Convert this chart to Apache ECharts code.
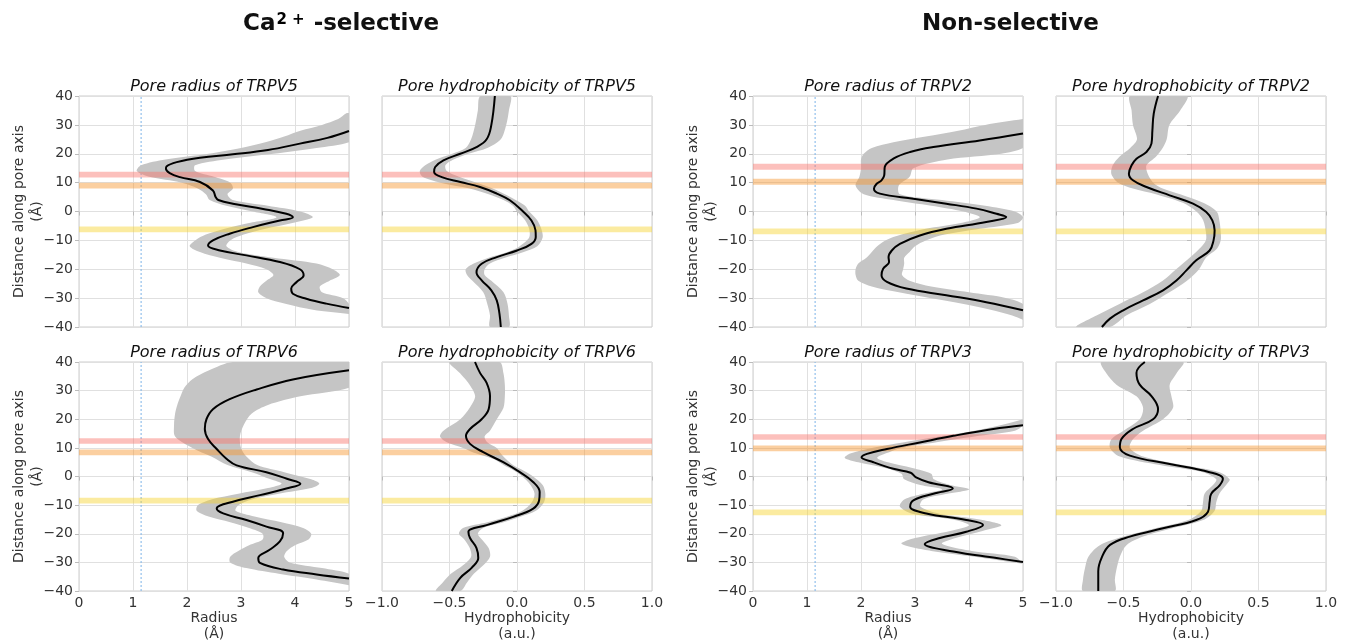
<!DOCTYPE html>
<html><head><meta charset="utf-8">
<script src="https://cdn.jsdelivr.net/npm/echarts@6/dist/echarts.min.js"></script>
<style>html,body{margin:0;padding:0;background:#fff;}#c{width:1348px;height:643px;}</style>
</head><body><div id="c"></div>
<script>
// ---------- tick labels ----------
const distanceTicks = [-40, -30, -20, -10, 0, 10, 20, 30, 40];
const radiusTicks = [0, 1, 2, 3, 4, 5];
const hydroTicks = [-1.0, -0.5, 0.0, 0.5, 1.0];
const probeRadius = 1.15;

// ---------- gate positions (red, orange, yellow) ----------
const trpv5Gates = [12.8, 9.0, -6.2];
const trpv6Gates = [12.4, 8.4, -8.4];
const trpv2Gates = [15.5, 10.3, -6.9];
const trpv3Gates = [13.8, 9.8, -12.5];

// ---------- TRPV5 ----------
const v5RadR = [5.0, 4.6, 4.09, 3.5, 2.85, 2.24, 1.81, 1.62, 1.61, 1.68, 1.87, 2.24, 2.48, 2.53, 2.58, 2.85, 3.41, 3.84, 3.96, 3.72, 3.22, 2.79, 2.48, 2.39, 2.61, 3.1, 3.72, 4.09, 4.16, 4.03, 3.93, 3.96, 4.21, 4.58, 5.0];
const v5RadZ = [27.9, 25.5, 23.5, 21.3, 19.8, 18.6, 17.1, 15.6, 14.8, 13.3, 11.9, 10.2, 7.3, 5.0, 4.0, 2.7, 0.9, -0.8, -2.0, -3.1, -5.4, -7.7, -10, -11.8, -13.5, -15.2, -17.5, -20, -22.1, -24.4, -26.7, -28.5, -30.2, -31.9, -33.4];
const v5RadBandZ = [34, 32, 30, 28, 26, 24, 22, 20, 18, 16, 14, 12, 10, 8, 6, 4, 2, 0, -2, -4, -6, -8, -10, -12, -14, -16, -18, -20, -22, -24, -26, -28, -30, -32, -34, -35.5];
const v5RadBandLo = [4.95, 4.8, 4.5, 4.1, 3.8, 3.45, 3.0, 2.4, 1.6, 1.15, 1.07, 1.3, 1.9, 2.2, 2.35, 2.42, 2.73, 3.22, 3.66, 3.15, 2.7, 2.35, 2.15, 2.05, 2.24, 2.61, 3.1, 3.47, 3.6, 3.47, 3.35, 3.32, 3.47, 3.84, 4.33, 5];
const v5RadBandHi = [5, 5, 5, 5, 5, 5, 4.4, 3.6, 2.7, 2.15, 2.15, 2.5, 2.8, 2.85, 2.75, 2.85, 3.5, 4.1, 4.33, 3.95, 3.45, 3.05, 2.8, 2.73, 2.95, 3.6, 4.4, 4.7, 4.83, 4.64, 4.46, 4.5, 4.89, 5, 5, 5];

const v5HydH = [-0.164, -0.19, -0.225, -0.30, -0.42, -0.545, -0.606, -0.614, -0.557, -0.42, -0.274, -0.15, -0.053, 0.045, 0.107, 0.137, 0.139, 0.107, 0.0, -0.15, -0.262, -0.30, -0.26, -0.19, -0.15, -0.13, -0.12];
const v5HydZ = [40, 30, 25, 22.3, 20, 17.7, 15.4, 13.7, 11.9, 10.2, 8.5, 6.2, 3.9, 0, -3.1, -6.5, -8.8, -11.2, -13.5, -15.8, -18.1, -21, -23.9, -27.3, -30.8, -35.4, -40];
const v5HydBandZ = [40, 35, 30, 25, 22, 20, 18, 16, 14, 12, 10, 8, 6, 4, 2, 0, -3, -6, -9, -12, -14, -16, -18, -20, -22, -24, -28, -32, -36, -40];
const v5HydBandLo = [-0.27, -0.29, -0.31, -0.34, -0.38, -0.48, -0.60, -0.68, -0.72, -0.70, -0.57, -0.35, -0.21, -0.10, -0.03, 0.00, 0.06, 0.09, 0.09, 0.02, -0.07, -0.21, -0.32, -0.38, -0.37, -0.33, -0.25, -0.22, -0.20, -0.20];
const v5HydBandHi = [-0.05, -0.06, -0.08, -0.12, -0.22, -0.36, -0.47, -0.53, -0.52, -0.43, -0.30, -0.18, -0.09, -0.01, 0.06, 0.09, 0.15, 0.18, 0.19, 0.15, 0.05, -0.09, -0.20, -0.24, -0.24, -0.19, -0.10, -0.07, -0.06, -0.06];

// ---------- TRPV6 ----------
const v6RadR = [5.0, 3.96, 3.29, 2.79, 2.48, 2.36, 2.33, 2.39, 2.55, 2.73, 2.92, 3.47, 3.85, 4.1, 3.84, 3.35, 2.85, 2.55, 2.67, 3.1, 3.47, 3.78, 3.72, 3.53, 3.32, 3.35, 3.78, 4.40, 5.0];
const v6RadZ = [37.1, 33.9, 30.4, 27, 23.5, 20, 16.6, 13.1, 9.6, 6.2, 3.9, 1.5, -0.8, -2.5, -4.2, -6.5, -8.8, -11.2, -12.9, -15.2, -17.5, -19.8, -22.7, -25.6, -28.5, -30.2, -32.5, -34.2, -35.6];
const v6RadBandZ = [40, 37, 34, 31, 28, 25, 22, 18, 14, 10, 7, 4, 1.5, -1, -2.5, -4, -6, -8, -10, -12, -14, -16, -18, -20, -22, -24, -26, -28, -30, -32, -34, -36, -38];
const v6RadBandLo = [2.85, 2.4, 2.1, 1.95, 1.88, 1.82, 1.78, 1.76, 1.78, 2.1, 2.45, 2.75, 3.2, 3.55, 3.75, 3.5, 2.95, 2.45, 2.2, 2.18, 2.4, 2.8, 3.15, 3.4, 3.4, 3.15, 2.95, 2.8, 2.8, 3.1, 3.7, 4.4, 5];
const v6RadBandHi = [5, 5, 5, 5, 4.1, 3.5, 3.2, 3.05, 2.98, 3.0, 3.1, 3.3, 3.8, 4.3, 4.45, 4.3, 3.7, 3.2, 2.95, 2.9, 3.25, 3.75, 4.15, 4.3, 4.25, 4.0, 3.85, 3.8, 3.9, 4.5, 5, 5, 5];

const v6HydH = [-0.311, -0.274, -0.225, -0.20, -0.21, -0.262, -0.348, -0.378, -0.348, -0.25, -0.102, 0.021, 0.119, 0.168, 0.164, 0.12, -0.028, -0.225, -0.36, -0.348, -0.30, -0.287, -0.336, -0.42, -0.483];
const v6HydZ = [40, 36.2, 32.7, 28.1, 23.5, 20, 16.6, 14.2, 11.4, 8.5, 5, 1.5, -1.9, -5.4, -8.3, -11.2, -14.1, -17, -19.3, -21.5, -25, -28.5, -31.9, -35.4, -40];
const v6HydBandZ = [40, 36, 32, 28, 24, 20, 16, 14, 12, 10, 8, 6, 4, 2, 0, -3, -6, -9, -12, -14, -16, -18, -20, -22, -25, -28, -31, -34, -37, -40];
const v6HydBandLo = [-0.50, -0.42, -0.35, -0.31, -0.35, -0.42, -0.545, -0.57, -0.52, -0.40, -0.30, -0.17, -0.10, -0.02, 0.04, 0.10, 0.13, 0.11, 0.04, -0.07, -0.22, -0.40, -0.43, -0.39, -0.35, -0.34, -0.40, -0.49, -0.55, -0.60];
const v6HydBandHi = [-0.13, -0.10, -0.09, -0.09, -0.10, -0.15, -0.20, -0.24, -0.22, -0.15, -0.12, -0.08, -0.03, 0.05, 0.12, 0.19, 0.21, 0.20, 0.14, 0.03, -0.10, -0.25, -0.29, -0.26, -0.21, -0.20, -0.25, -0.32, -0.37, -0.42];

// ---------- TRPV2 ----------
const v2RadR = [5.0, 4.2, 3.34, 2.91, 2.6, 2.44, 2.43, 2.38, 2.29, 2.24, 2.35, 2.97, 3.58, 4.14, 4.51, 4.69, 4.32, 3.58, 3.09, 2.72, 2.57, 2.51, 2.52, 2.41, 2.38, 2.48, 2.84, 3.58, 4.32, 5.0];
const v2RadZ = [27, 24.6, 22.3, 20.6, 18.3, 15.4, 12.5, 10.8, 9.6, 7.9, 6.2, 4.4, 2.7, 1, -0.8, -1.9, -3.6, -6, -8.3, -11.2, -13.5, -15.8, -17.5, -19.8, -22.1, -24.4, -26.7, -29, -31.4, -34.2];
const v2RadBandZ = [32, 30, 28, 26, 24, 22, 20, 18, 15, 12, 9, 6, 4, 2, 0, -2, -4, -6, -8, -10, -12, -14, -16, -18, -20, -22, -24, -26, -28, -30, -32, -34, -36, -37.5];
const v2RadBandLo = [5, 4.3, 3.8, 3.2, 2.6, 2.2, 2.05, 2.0, 2.0, 1.97, 1.9, 2.05, 2.6, 3.3, 3.9, 4.2, 3.85, 3.2, 2.75, 2.45, 2.3, 2.2, 2.1, 1.95, 1.9, 1.9, 1.95, 2.2, 2.7, 3.3, 3.9, 4.4, 4.8, 5];
const v2RadBandHi = [5, 5, 5, 5, 5, 5, 4.6, 3.6, 2.97, 2.9, 2.7, 2.72, 3.5, 4.3, 4.85, 5, 4.9, 4.2, 3.55, 3.2, 3.0, 2.9, 2.8, 2.8, 2.78, 2.76, 2.9, 3.3, 4.0, 4.7, 5, 5, 5, 5];

const v2HydH = [-0.244, -0.276, -0.286, -0.293, -0.33, -0.404, -0.44, -0.46, -0.43, -0.33, -0.158, 0.015, 0.113, 0.158, 0.175, 0.167, 0.138, 0.039, -0.034, -0.108, -0.207, -0.355, -0.502, -0.6, -0.66];
const v2HydZ = [40, 33.9, 28.1, 23.5, 20.6, 18.3, 16, 13.1, 10.8, 8.5, 5.6, 2.7, -0.2, -3.1, -6.5, -10, -13.5, -16.9, -20.4, -23.9, -27.3, -30.8, -34.2, -37.1, -40];
const v2HydBandZ = [40, 35, 30, 25, 22, 19, 16, 13, 10, 8, 6, 3, 0, -3, -7, -10, -13, -16, -20, -24, -28, -32, -36, -40];
const v2HydBandLo = [-0.45, -0.44, -0.43, -0.40, -0.45, -0.53, -0.58, -0.59, -0.54, -0.43, -0.26, -0.06, 0.04, 0.09, 0.11, 0.11, 0.06, -0.01, -0.11, -0.21, -0.355, -0.53, -0.70, -0.85];
const v2HydBandHi = [-0.03, -0.08, -0.16, -0.18, -0.21, -0.26, -0.33, -0.32, -0.28, -0.21, -0.08, 0.09, 0.19, 0.21, 0.22, 0.22, 0.19, 0.11, 0.06, -0.03, -0.16, -0.305, -0.48, -0.60];

// ---------- TRPV3 ----------
const v3RadR = [5.0, 4.45, 3.71, 3.09, 2.48, 2.11, 2.01, 2.23, 2.6, 2.92, 3.02, 3.25, 3.7, 3.34, 2.97, 2.91, 3.21, 3.95, 4.26, 3.95, 3.46, 3.18, 3.71, 4.51, 5.0];
const v3RadZ = [17.9, 16.6, 14.2, 11.9, 9.6, 7.9, 6.7, 5, 2.7, 1.3, -0.3, -2.0, -4.2, -6, -8.3, -10.6, -12.9, -15.2, -16.9, -19.3, -21.5, -23.6, -26.2, -28.5, -29.9];
const v3RadBandZ = [20, 18, 16, 14, 12, 10, 8, 6.5, 5, 3, 1, -1, -3, -4.5, -6, -8, -10.5, -13, -15, -17, -19, -21.5, -23.5, -26, -28, -30.5];
const v3RadBandLo = [5, 4.6, 4.1, 3.45, 2.8, 2.2, 1.8, 1.7, 1.95, 2.45, 2.75, 2.8, 3.1, 3.5, 3.15, 2.8, 2.72, 2.95, 3.7, 4.0, 3.65, 3.0, 2.75, 3.3, 4.1, 5];
const v3RadBandHi = [5, 5, 4.85, 4.1, 3.4, 2.75, 2.45, 2.3, 2.5, 2.95, 3.3, 3.35, 3.65, 4.0, 3.6, 3.15, 3.1, 3.45, 4.2, 4.6, 4.25, 3.75, 3.5, 4.05, 4.85, 5];

const v3HydH = [-0.342, -0.404, -0.38, -0.293, -0.244, -0.281, -0.43, -0.515, -0.527, -0.453, -0.158, 0.138, 0.236, 0.212, 0.15, 0.138, 0.126, 0.039, -0.207, -0.453, -0.60, -0.663, -0.687, -0.687];
const v3HydZ = [40, 36.2, 32.1, 28.1, 23.5, 20, 16.6, 13.1, 10.2, 7.3, 4.4, 1.5, -0.8, -3.1, -6, -8.8, -12.3, -15.2, -18.1, -21, -23.9, -28.5, -33.1, -40];
const v3HydBandZ = [40, 36, 32, 28, 24, 20, 16, 13, 10, 7, 4, 1.5, -1, -3, -6, -9, -12, -15, -18, -21, -24, -28, -32, -36, -40];
const v3HydBandLo = [-0.663, -0.626, -0.55, -0.404, -0.355, -0.38, -0.50, -0.59, -0.60, -0.527, -0.23, 0.089, 0.187, 0.163, 0.10, 0.089, 0.076, -0.01, -0.256, -0.50, -0.675, -0.76, -0.785, -0.80, -0.80];
const v3HydBandHi = [-0.059, -0.108, -0.158, -0.145, -0.133, -0.207, -0.355, -0.43, -0.453, -0.355, -0.06, 0.21, 0.286, 0.26, 0.21, 0.187, 0.175, 0.10, -0.133, -0.355, -0.478, -0.527, -0.55, -0.564, -0.564];

// ---------- layout / style ----------
const FONT = 'DejaVu Sans';
const TXT = '#333333';
const PW = 270, PH = 231;
const gateColors = ['rgba(248,115,106,0.45)', 'rgba(246,148,44,0.45)', 'rgba(246,211,44,0.45)'];
const gateHalf = 1.0;

const panels = [
  {kind:'rad', left:79,   top:96,  title:'Pore radius of TRPV5',          x:v5RadR, z:v5RadZ, bz:v5RadBandZ, blo:v5RadBandLo, bhi:v5RadBandHi, gates:trpv5Gates, bottom:false},
  {kind:'hyd', left:382,  top:96,  title:'Pore hydrophobicity of TRPV5',  x:v5HydH, z:v5HydZ, bz:v5HydBandZ, blo:v5HydBandLo, bhi:v5HydBandHi, gates:trpv5Gates, bottom:false},
  {kind:'rad', left:79,   top:362, title:'Pore radius of TRPV6',          x:v6RadR, z:v6RadZ, bz:v6RadBandZ, blo:v6RadBandLo, bhi:v6RadBandHi, gates:trpv6Gates, bottom:true},
  {kind:'hyd', left:382,  top:362, title:'Pore hydrophobicity of TRPV6',  x:v6HydH, z:v6HydZ, bz:v6HydBandZ, blo:v6HydBandLo, bhi:v6HydBandHi, gates:trpv6Gates, bottom:true},
  {kind:'rad', left:753,  top:96,  title:'Pore radius of TRPV2',          x:v2RadR, z:v2RadZ, bz:v2RadBandZ, blo:v2RadBandLo, bhi:v2RadBandHi, gates:trpv2Gates, bottom:false},
  {kind:'hyd', left:1056, top:96,  title:'Pore hydrophobicity of TRPV2',  x:v2HydH, z:v2HydZ, bz:v2HydBandZ, blo:v2HydBandLo, bhi:v2HydBandHi, gates:trpv2Gates, bottom:false},
  {kind:'rad', left:753,  top:362, title:'Pore radius of TRPV3',          x:v3RadR, z:v3RadZ, bz:v3RadBandZ, blo:v3RadBandLo, bhi:v3RadBandHi, gates:trpv3Gates, bottom:true},
  {kind:'hyd', left:1056, top:362, title:'Pore hydrophobicity of TRPV3',  x:v3HydH, z:v3HydZ, bz:v3HydBandZ, blo:v3HydBandLo, bhi:v3HydBandHi, gates:trpv3Gates, bottom:true}
];

function minus(s){ return String(s).replace('-', '\u2212'); }

const grid = [], xAxis = [], yAxis = [], series = [], graphic = [];

panels.forEach((p, i) => {
  const isRad = p.kind === 'rad';
  const ticks = isRad ? radiusTicks : hydroTicks;
  grid.push({left:p.left, top:p.top, width:PW, height:PH, show:true, borderColor:'#cccccc', borderWidth:1, containLabel:false});
  xAxis.push({
    gridIndex:i, type:'value', min:ticks[0], max:ticks[ticks.length-1], interval:ticks[1]-ticks[0],
    axisLine:{show:false},
    axisTick:{show:true, length:4, lineStyle:{color:'#bbbbbb'}},
    splitLine:{show:true, lineStyle:{color:'#e0e0e0', width:1}},
    axisLabel:{show:p.bottom, fontFamily:FONT, fontSize:14, color:TXT, margin:5,
      formatter: v => isRad ? String(v) : minus(v.toFixed(1))},
    name: p.bottom ? (isRad ? 'Radius\n(Å)' : 'Hydrophobicity\n(a.u.)') : '',
    nameLocation:'middle', nameGap:19, nameMoveOverlap:false,
    nameTextStyle:{fontFamily:FONT, fontSize:14, color:TXT, lineHeight:16, verticalAlign:'top'}
  });
  yAxis.push({
    gridIndex:i, type:'value', min:distanceTicks[0], max:distanceTicks[distanceTicks.length-1], interval:distanceTicks[1]-distanceTicks[0],
    axisLine:{show:false},
    axisTick:{show:true, length:4, lineStyle:{color:'#bbbbbb'}},
    splitLine:{show:true, lineStyle:{color:'#e0e0e0', width:1}},
    axisLabel:{show:isRad, fontFamily:FONT, fontSize:14, color:TXT, margin:6, formatter: v => minus(v)},
    name: isRad ? 'Distance along pore axis\n(Å)' : '',
    nameLocation:'middle', nameGap:33, nameRotate:90, nameMoveOverlap:false,
    nameTextStyle:{fontFamily:FONT, fontSize:14, color:TXT, lineHeight:18}
  });
  // uncertainty band
  series.push({
    type:'custom', xAxisIndex:i, yAxisIndex:i, z:2, clip:true, silent:true,
    data:[[ticks[0], 0]],
    renderItem: function(params, api){
      const pts = [];
      for (let k = 0; k < p.bz.length; k++) pts.push(api.coord([p.bhi[k], p.bz[k]]));
      for (let k = p.bz.length - 1; k >= 0; k--) pts.push(api.coord([p.blo[k], p.bz[k]]));
      return {type:'polygon', shape:{points:pts, smooth:0.3}, style:{fill:'#c5c5c5', stroke:null}};
    }
  });
  // probe-radius reference line (radius panels)
  if (isRad) {
    series.push({
      type:'line', xAxisIndex:i, yAxisIndex:i, z:1, symbol:'none', silent:true,
      lineStyle:{color:'#7db4e8', type:[2, 2], width:1},
      data:[[probeRadius, distanceTicks[0]], [probeRadius, distanceTicks[distanceTicks.length-1]]]
    });
  }
  // mean profile + gate bands
  series.push({
    type:'line', xAxisIndex:i, yAxisIndex:i, z:4, smooth:0.4, symbol:'none', silent:true, clip:true,
    lineStyle:{color:'#000000', width:2},
    data: p.x.map((v, k) => [v, p.z[k]]),
    markArea:{silent:true, z:3, data: p.gates.map((g, k) => [
      {yAxis:g - gateHalf, itemStyle:{color:gateColors[k]}}, {yAxis:g + gateHalf}
    ])}
  });
  graphic.push({type:'text', x:p.left + PW/2, y:p.top - 9.5,
    style:{text:p.title, font:'italic 16px "DejaVu Sans"', fill:'#111', align:'center', verticalAlign:'middle'}});
});

graphic.push({type:'text', x:243, y:24, style:{
  text:'{a|Ca}{s|2 +}{a| -selective}', verticalAlign:'middle', align:'left',
  rich:{a:{fontFamily:FONT, fontSize:23, fontWeight:'bold', fill:'#111', color:'#111'},
        s:{fontFamily:FONT, fontSize:15, fontWeight:'bold', color:'#111', verticalAlign:'top', padding:[0,1,0,1]}}
}});
graphic.push({type:'text', x:922, y:24, style:{
  text:'Non-selective', verticalAlign:'middle', align:'left',
  font:'bold 23px "DejaVu Sans"', fill:'#111'
}});

const chart = echarts.init(document.getElementById('c'), null, {renderer:'canvas'});
chart.setOption({animation:false, backgroundColor:'#ffffff', grid, xAxis, yAxis, series, graphic});
</script></body></html>
